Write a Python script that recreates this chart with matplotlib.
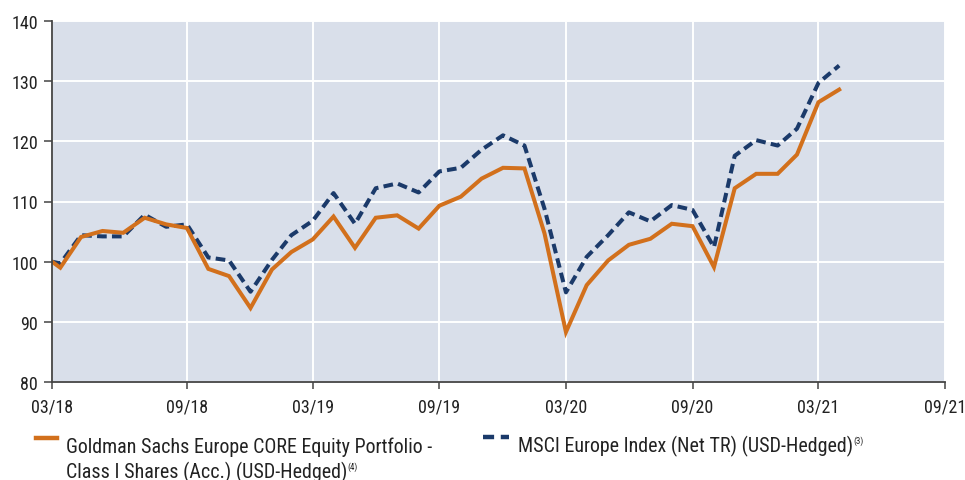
import matplotlib
matplotlib.use("Agg")
import matplotlib.pyplot as plt
import matplotlib.dates as mdates
from matplotlib.lines import Line2D
import pandas as pd

# inception date, then month ends up to 04/21
inception = pd.Timestamp("2018-03-19")
month_ends = pd.date_range("2018-03-31", "2021-04-30", freq="ME")
dates = [inception] + list(month_ends)

fund = [100.0, 99.0, 104.1, 105.1, 104.8, 107.3, 106.2, 105.6, 98.8, 97.6, 92.3,
        98.7, 101.6, 103.7, 107.5, 102.3, 107.3, 107.7, 105.5, 109.3, 110.8, 113.8, 115.6,
        115.5, 104.7, 88.3, 96.1, 100.2, 102.8, 103.8, 106.3, 105.9, 99.1, 112.2, 114.6,
        114.6, 117.8, 126.5, 128.6]
index = [100.0, 99.7, 104.4, 104.2, 104.2, 107.8, 105.8, 106.2, 100.7, 100.2, 95.0,
         100.3, 104.4, 106.8, 111.4, 106.3, 112.2, 113.0, 111.5, 115.0, 115.6, 118.6, 121.0,
         119.3, 108.8, 94.9, 100.8, 104.4, 108.2, 106.7, 109.4, 108.6, 102.4, 117.6, 120.2,
         119.3, 122.1, 129.7, 132.6]

fund_label = ["Goldman Sachs Europe CORE Equity Portfolio -",
              "Class I Shares (Acc.) (USD-Hedged)"]
fund_note = "(4)"
index_label = "MSCI Europe Index (Net TR) (USD-Hedged)"
index_note = "(3)"

xticks = [inception] + [pd.Timestamp(d) for d in
                        ["2018-09-30", "2019-03-31", "2019-09-30", "2020-03-31",
                         "2020-09-30", "2021-03-31", "2021-09-30"]]
yticks = [80, 90, 100, 110, 120, 130, 140]

ORANGE = "#D2701C"
NAVY = "#1B3A6A"
TXT = "#222222"

plt.rcParams['font.family'] = ['Roboto Condensed', 'DejaVu Sans']

fig = plt.figure(figsize=(9.65, 4.81), dpi=100)
ax = fig.add_axes([52 / 965, 1 - 383 / 481, (945 - 52) / 965, (383 - 22) / 481])
ax.set_facecolor("#D9DFEA")

ax.plot(dates, index, color=NAVY, lw=2.9, linestyle=(0, (2.4, 1.3)), solid_joinstyle='miter')
ax.plot(dates, fund, color=ORANGE, lw=2.9, solid_joinstyle='miter')

ax.set_xlim(inception, pd.Timestamp("2021-09-30"))
ax.set_ylim(80, 140)
ax.set_xticks(xticks)
ax.xaxis.set_major_formatter(mdates.DateFormatter("%m/%y"))
ax.set_yticks(yticks)
ax.grid(True, color="white", lw=1.4)
ax.set_axisbelow(True)

for s in ["top", "right"]:
    ax.spines[s].set_visible(False)
for s in ["left", "bottom"]:
    ax.spines[s].set_color("#444444")
    ax.spines[s].set_linewidth(1.3)

ax.tick_params(axis="y", length=6, width=1.1, color="#444444", pad=4, labelsize=13, labelcolor=TXT)
ax.tick_params(axis="x", length=5, width=1.1, color="#444444", pad=6, labelsize=13, labelcolor=TXT)

# legend drawn by hand: handles sit at the first text line
fig.add_artist(Line2D([36 / 965, 57 / 965], [1 - 438.5 / 481] * 2, color=ORANGE, lw=3.2,
                      transform=fig.transFigure))
fig.text(66 / 965, 1 - 453 / 481, fund_label[0], fontsize=14.4, color=TXT, va="baseline")
t2 = fig.text(66 / 965, 1 - 478 / 481, fund_label[1], fontsize=14.4, color=TXT, va="baseline")

fig.add_artist(Line2D([483 / 965, 509 / 965], [1 - 437.5 / 481] * 2, color=NAVY, lw=3.2,
                      linestyle=(0, (2.5, 1.5)), transform=fig.transFigure))
t3 = fig.text(518 / 965, 1 - 452 / 481, index_label, fontsize=14.4, color=TXT, va="baseline")

# small footnote marks after the labels
fig.canvas.draw()
r = fig.canvas.get_renderer()
for t, note, ytop in [(t2, fund_note, 462), (t3, index_note, 436)]:
    bb = t.get_window_extent(r)
    fig.text(bb.x1 / 965, 1 - ytop / 481, note, fontsize=6.5, color=TXT, va="top")

fig.savefig("out.png", dpi=100)
